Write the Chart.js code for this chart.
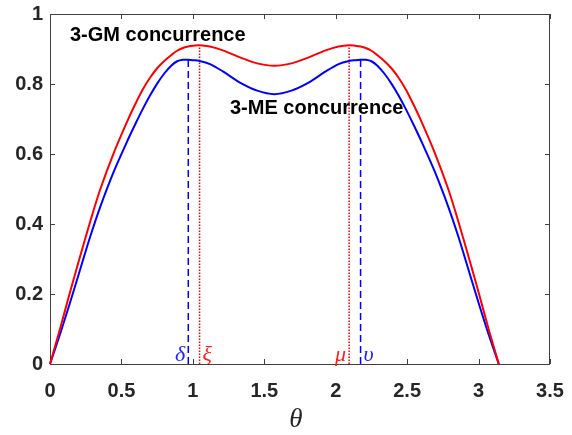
<!DOCTYPE html>
<html>
<head>
<meta charset="utf-8">
<script src="https://cdn.jsdelivr.net/npm/chart.js@4.4.1/dist/chart.umd.min.js"></script>
<style>
  html, body { margin: 0; padding: 0; background: #fff; }
  #wrap { width: 572px; height: 435px; }
</style>
</head>
<body>
<div id="wrap"><canvas id="c" width="572" height="435"></canvas></div>
<script>
  // theta grid (x values)
  const theta = [0, 0.07, 0.14, 0.2, 0.28, 0.35, 0.45, 0.55, 0.6, 0.65, 0.7, 0.75, 0.8, 0.85, 0.89, 0.93, 0.968, 1.0, 1.047, 1.12, 1.21, 1.33, 1.45, 1.571,
                 1.69, 1.81, 1.93, 2.02, 2.094, 2.14, 2.174, 2.21, 2.25, 2.29, 2.34, 2.39, 2.44, 2.49, 2.54, 2.59, 2.69, 2.79, 2.86, 2.94, 3.0, 3.07, 3.1416];
  // 3-GM concurrence (red)
  const gmConc = [0, 0.10, 0.205, 0.292, 0.405, 0.497, 0.607, 0.702, 0.745, 0.785, 0.818, 0.845, 0.866, 0.883, 0.895, 0.903, 0.907, 0.909, 0.911, 0.907, 0.896, 0.876, 0.859, 0.852,
                  0.859, 0.876, 0.896, 0.907, 0.911, 0.909, 0.907, 0.903, 0.895, 0.883, 0.866, 0.845, 0.818, 0.785, 0.745, 0.702, 0.607, 0.497, 0.405, 0.292, 0.205, 0.10, 0];
  // 3-ME concurrence (blue)
  const meConc = [0, 0.085, 0.175, 0.255, 0.362, 0.447, 0.553, 0.645, 0.688, 0.729, 0.767, 0.801, 0.83, 0.853, 0.865, 0.869, 0.869, 0.868, 0.866, 0.857, 0.836, 0.804, 0.781, 0.771,
                  0.781, 0.804, 0.836, 0.857, 0.866, 0.868, 0.869, 0.869, 0.865, 0.853, 0.83, 0.801, 0.767, 0.729, 0.688, 0.645, 0.553, 0.447, 0.362, 0.255, 0.175, 0.085, 0];

  // vertical marker lines
  const markerNames = ['δ', 'ξ', 'μ', 'υ'];
  const markerTheta = [0.968, 1.047, 2.094, 2.174];
  const markerTop = [0.869, 0.911, 0.911, 0.869];

  const xTicks = [0, 0.5, 1, 1.5, 2, 2.5, 3, 3.5];
  const xTickLabels = ['0', '0.5', '1', '1.5', '2', '2.5', '3', '3.5'];
  const yTicks = [0, 0.2, 0.4, 0.6, 0.8, 1];
  const yTickLabels = ['0', '0.2', '0.4', '0.6', '0.8', '1'];

  const AXIS_COLOR = '#404040';
  const TEXT_COLOR = '#262626';
  const TICK_FONT = { family: "'Liberation Sans', Arial, sans-serif", size: 20, weight: 'bold' };

  function pts(xs, ys) { return xs.map((x, i) => ({ x: x, y: ys[i] })); }

  const markerSets = markerNames.map((name, i) => {
    const isBlue = (name === 'δ' || name === 'υ');
    return {
      label: name,
      data: [{ x: markerTheta[i], y: 0 }, { x: markerTheta[i], y: markerTop[i] }],
      borderColor: isBlue ? '#0000ff' : '#ff0000',
      borderWidth: 1.5,
      borderDash: isBlue ? [7, 4] : [1.5, 1.5],
      pointRadius: 0,
      fill: false,
      clip: false,
      order: 3
    };
  });

  // box, inward ticks and text labels
  const boxPlugin = {
    id: 'boxPlugin',
    beforeDatasetsDraw(chart) {
      const { ctx, chartArea: a, scales } = chart;
      ctx.save();
      ctx.strokeStyle = AXIS_COLOR;
      ctx.lineWidth = 1;
      ctx.strokeRect(Math.round(a.left) + 0.5, Math.round(a.top) + 0.5,
        Math.round(a.right - a.left) - 1, Math.round(a.bottom - a.top));
      ctx.beginPath();
      xTicks.forEach(v => {
        const px = Math.round(scales.x.getPixelForValue(v)) + 0.5;
        ctx.moveTo(px, a.bottom); ctx.lineTo(px, a.bottom - 5);
        ctx.moveTo(px, a.top); ctx.lineTo(px, a.top + 5);
      });
      yTicks.forEach(v => {
        const py = Math.round(scales.y.getPixelForValue(v)) + 0.5;
        ctx.moveTo(a.left, py); ctx.lineTo(a.left + 5, py);
        ctx.moveTo(a.right, py); ctx.lineTo(a.right - 5, py);
      });
      ctx.stroke();
      ctx.restore();
    },
    afterDatasetsDraw(chart) {
      const { ctx, chartArea: a, scales } = chart;
      ctx.save();
      ctx.fillStyle = '#000';
      ctx.font = "bold 20px 'Liberation Sans', Arial, sans-serif";
      ctx.textBaseline = 'middle';
      ctx.textAlign = 'left';
      ctx.fillText('3-GM concurrence', 70, 35);
      ctx.fillText('3-ME concurrence', 230, 108);

      // axis title
      ctx.fillStyle = TEXT_COLOR;
      ctx.textAlign = 'center';
      ctx.font = "italic 27px 'Liberation Serif', 'Times New Roman', serif";
      ctx.fillText('θ', (a.left + a.right) / 2 - 4, 420);

      ctx.font = "italic 22px 'Liberation Serif', 'Times New Roman', serif";
      ctx.textBaseline = 'alphabetic';
      const base = scales.y.getPixelForValue(0) - 3;
      markerNames.forEach((name, i) => {
        const px = scales.x.getPixelForValue(markerTheta[i]);
        const isBlue = (name === 'δ' || name === 'υ');
        ctx.fillStyle = isBlue ? '#2020ff' : '#ff2020';
        if (name === 'δ' || name === 'μ') {
          ctx.textAlign = 'right';
          ctx.fillText(name, px - 3, base);
        } else {
          ctx.textAlign = 'left';
          ctx.fillText(name, px + 3, base);
        }
      });
      ctx.restore();
    }
  };

  new Chart(document.getElementById('c'), {
    type: 'line',
    data: {
      datasets: [
        {
          label: '3-GM concurrence',
          data: pts(theta, gmConc),
          borderColor: '#ff0000',
          borderWidth: 2,
          pointRadius: 0,
          tension: 0.3,
          fill: false,
          clip: false,
          order: 1
        },
        {
          label: '3-ME concurrence',
          data: pts(theta, meConc),
          borderColor: '#0000ff',
          borderWidth: 2,
          pointRadius: 0,
          tension: 0.3,
          fill: false,
          clip: false,
          order: 2
        },
        ...markerSets
      ]
    },
    options: {
      responsive: false,
      animation: false,
      devicePixelRatio: 1,
      layout: { padding: { left: 0, top: 14, right: 22, bottom: 0 } },
      plugins: { legend: { display: false }, tooltip: { enabled: false } },
      scales: {
        x: {
          type: 'linear',
          min: 0,
          max: 3.5,
          afterBuildTicks: (s) => { s.ticks = xTicks.map(v => ({ value: v })); },
          afterFit: (s) => { s.height = 71; s.paddingLeft = 0; s.paddingRight = 0; },
          grid: { display: false, drawTicks: false },
          border: { display: false },
          ticks: {
            autoSkip: false,
            maxRotation: 0,
            padding: 15,
            color: TEXT_COLOR,
            font: TICK_FONT,
            callback: (v) => xTickLabels[xTicks.indexOf(v)]
          }
        },
        y: {
          type: 'linear',
          min: 0,
          max: 1,
          afterBuildTicks: (s) => { s.ticks = yTicks.map(v => ({ value: v })); },
          afterFit: (s) => { s.width = 50; s.paddingTop = 0; s.paddingBottom = 0; },
          grid: { display: false, drawTicks: false },
          border: { display: false },
          ticks: {
            padding: 7,
            color: TEXT_COLOR,
            font: TICK_FONT,
            callback: (v) => yTickLabels[yTicks.indexOf(v)]
          }
        }
      }
    },
    plugins: [boxPlugin]
  });
</script>
</body>
</html>
